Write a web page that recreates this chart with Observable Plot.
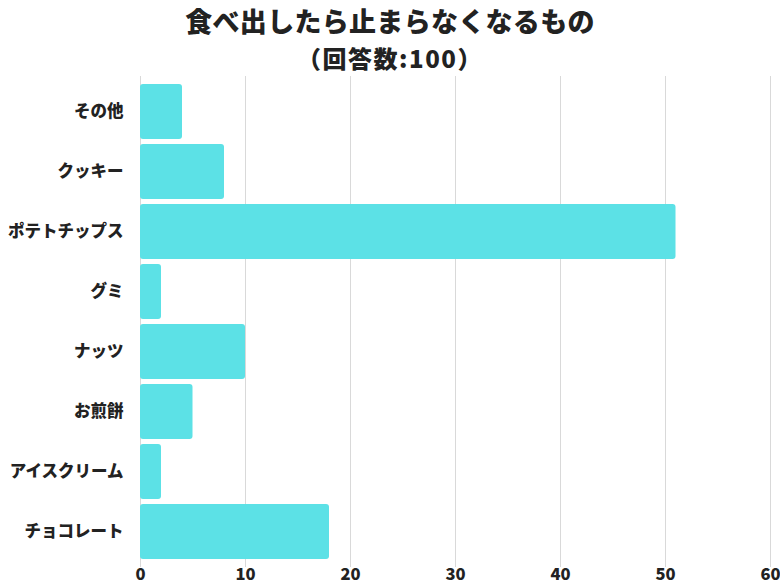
<!DOCTYPE html>
<html>
<head>
<meta charset="utf-8">
<script src="https://cdn.jsdelivr.net/npm/d3@7"></script>
<script src="https://cdn.jsdelivr.net/npm/@observablehq/plot@0.6"></script>
<style>
  body { margin: 0; background: #fff; font-family: "Noto Sans CJK JP", "Noto Sans", sans-serif; overflow: hidden; }
  #wrap { width: 780px; }
  #header { position: relative; height: 76px; }
  .title { position: absolute; left: 0; right: 0; top: 6px; text-align: center; font-weight: 900; color: #222; font-size: 27px; line-height: 30px; letter-spacing: 0.3px; }
  .subtitle { position: absolute; left: 0; right: 0; top: 44px; text-align: center; font-weight: 900; color: #222; font-size: 24px; line-height: 28px; letter-spacing: 1.5px; }
  #chart svg { display: block; }
</style>
</head>
<body>
<div id="wrap">
  <div id="header">
    <div class="title">食べ出したら止まらなくなるもの</div>
    <div class="subtitle">（回答数:100）</div>
  </div>
  <div id="chart"></div>
</div>
<script>
const categories = ["その他", "クッキー", "ポテトチップス", "グミ", "ナッツ", "お煎餅", "アイスクリーム", "チョコレート"];
const counts = [4, 8, 51, 2, 10, 5, 2, 18];
const xTicks = [0, 10, 20, 30, 40, 50, 60];

const data = categories.map((c, i) => ({category: c, count: counts[i]}));

const chart = Plot.plot({
  width: 780,
  height: 509,
  marginTop: 0,
  marginLeft: 140,
  marginRight: 10,
  marginBottom: 18,
  style: { fontFamily: '"Noto Sans CJK JP", sans-serif', color: "#222", background: "#fff" },
  x: { domain: [0, 60], ticks: xTicks, label: null },
  y: { domain: categories, label: null, padding: 0.09 },
  marks: [
    Plot.gridX(xTicks, { stroke: "#d9d9d9", strokeOpacity: 1, strokeWidth: 1 }),
    Plot.barX(data, { x: "count", y: "category", fill: "#5ce1e6", rx: 3 }),
    Plot.axisX(xTicks, { tickSize: 0, tickPadding: 1, fontSize: 16.5, fontWeight: 900, label: null }),
    Plot.axisY(categories, { tickSize: 0, tickPadding: 17, fontSize: 16.5, fontWeight: 900, label: null })
  ]
});
document.getElementById("chart").appendChild(chart);
</script>
</body>
</html>
